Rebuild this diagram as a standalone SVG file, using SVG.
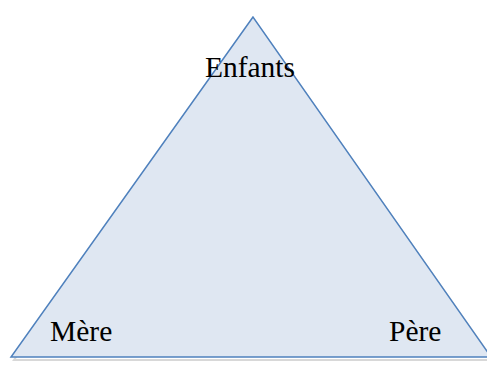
<svg xmlns="http://www.w3.org/2000/svg" width="487" height="365" viewBox="0 0 487 365">
<style>
text{font-family:'Liberation Serif','Times New Roman',Times,serif;font-size:29.5px;fill:#000}
</style>
<rect width="487" height="365" fill="#fff"/>
<g id="triangle">
<polygon points="254,20 14,360 493,360" fill="none" stroke="#c8c8c8" stroke-width="2" opacity="0.7"/>
<polygon points="253,17 11,357 491,357" fill="#dfe7f2" stroke="#4f81bd" stroke-width="1.5" stroke-linejoin="miter"/>
</g>
<g id="enfants"><text x="250" y="77" text-anchor="middle">Enfants</text></g>
<g id="mere"><text x="50" y="341">Mère</text></g>
<g id="pere"><text x="389" y="341">Père</text></g>
</svg>
